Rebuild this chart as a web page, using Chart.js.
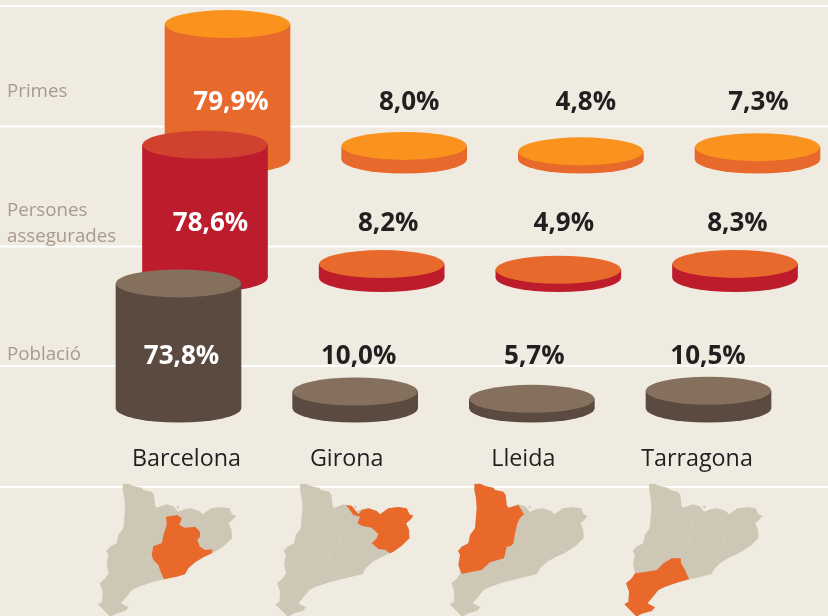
<!DOCTYPE html>
<html lang="ca">
<head>
<meta charset="utf-8">
<style>html,body{margin:0;padding:0;background:#f0ebe1;overflow:hidden}canvas{display:block}</style>
<script src="https://cdn.jsdelivr.net/npm/chart.js@4"></script>
</head>
<body>
<canvas id="c" width="828" height="616"></canvas>
<script>
// ---- data ----
const provinces = ['Barcelona', 'Girona', 'Lleida', 'Tarragona'];
const rowNames = ['Primes', 'Persones assegurades', 'Població'];
const primes = [79.9, 8.0, 4.8, 7.3];
const persones = [78.6, 8.2, 4.9, 8.3];
const poblacio = [73.8, 10.0, 5.7, 10.5];

// ---- layout / style (separate from the data) ----
const W = 828, H = 616;
const BG = '#f0ebe1';
const PX_PER_PCT = 1.695, COL_STEP = 176.67, BAR_W = 125, RY = 14;
const rows = [
  {id:'a', name:rowNames[0], values:primes,   x0:227.5, base:159.5, side:'#e7692b', tops:['#f9931e','#f9931e','#f9931e','#f9931e'], labelY:102.5, labelDx:[3.5,5,5,1]},
  {id:'b', name:rowNames[1], values:persones, x0:205,   base:278,   side:'#bd1c2c', tops:['#d1412f','#e7692b','#e7692b','#e7692b'], labelY:223.5, labelDx:[5.5,6.5,5.5,2.5]},
  {id:'c', name:rowNames[2], values:poblacio, x0:178.5, base:408.5, side:'#5a4a40', tops:['#84705c','#84705c','#84705c','#84705c'], labelY:356.5, labelDx:[3,3.5,2.5,-0.5]}
];
const gridY = [6, 126.5, 246.5, 366, 487];
const rowLabels = [[rowNames[0], 92], ['Persones', 210.5], ['assegurades', 237], [rowNames[2], 354.5]];
const catNudge = [8, -8.5, -8.5, -11.5];
const CAT_Y = 459;
const MAP_X = [90, 267.4, 441.7, 616.4], MAP_Y = 475;

// Decorative province outlines (3x map-local units)
const mapBase = [[98,27],[115,26],[130,33],[155,38],[160,45],[185,50],[192,60],[195,90],[200,98],[230,88],[250,94],[264,110],[283,103],[303,100],[328,108],[338,118],[363,100],[393,96],[418,100],[426,118],[438,122],[428,135],[416,145],[425,165],[426,190],[403,212],[368,235],[340,247],[315,262],[295,280],[285,298],[222,313],[186,322],[146,335],[126,345],[106,370],[93,385],[116,397],[106,408],[81,415],[61,425],[46,410],[24,388],[36,380],[38,350],[29,325],[46,310],[56,295],[50,270],[55,240],[49,228],[60,215],[80,205],[85,180],[100,160],[105,100],[103,70],[98,45]];
const mapRegions = [
  [[228,125],[262,120],[275,130],[268,150],[285,158],[315,155],[330,170],[330,185],[322,195],[330,215],[345,225],[367,223],[365,235],[340,247],[315,262],[295,280],[285,298],[260,305],[222,313],[212,290],[205,270],[190,255],[185,240],[190,213],[215,205],[222,175],[230,150]],
  [[236,90],[253,92],[273,118],[283,105],[303,100],[328,108],[338,118],[363,100],[393,96],[418,100],[426,118],[438,122],[428,135],[416,145],[425,165],[426,190],[403,212],[378,230],[368,235],[353,224],[333,222],[313,205],[328,190],[333,178],[313,158],[283,152],[270,145],[278,125],[258,120]],
  [[98,27],[115,26],[130,33],[155,38],[160,45],[185,50],[192,60],[195,90],[200,98],[230,90],[247,118],[235,128],[227,145],[220,175],[215,205],[207,213],[195,215],[187,250],[145,262],[120,285],[90,290],[60,297],[50,270],[55,240],[49,228],[60,215],[80,205],[85,180],[100,160],[105,100],[103,70],[98,45]],
  [[56,295],[91,290],[121,285],[141,265],[166,250],[193,250],[194,265],[206,285],[218,313],[186,322],[146,335],[126,345],[106,370],[93,385],[116,397],[106,408],[81,415],[71,418],[61,425],[46,410],[24,388],[36,380],[38,350],[29,325],[46,310]]
];
const mapBorders = [
  {a:2,b:3,pts:[[56,295],[91,290],[121,285],[145,262],[187,250]]},
  {a:0,b:3,pts:[[187,250],[194,265],[206,285],[218,313]]},
  {a:0,b:2,pts:[[187,250],[195,215],[215,205],[222,175],[230,150],[228,125]]},
  {a:0,b:1,pts:[[262,120],[268,150],[315,155],[330,170],[322,195],[333,222],[367,223]]}
];
const mapSpot = [264,96];

const datasets = rows.map((r, k) => ({
  type: 'bar',
  label: r.name,
  data: r.values.map((v, i) => ({x: i, y: v})),
  xAxisID: 'x' + r.id,
  yAxisID: 'y' + r.id,
  backgroundColor: r.side,
  barThickness: BAR_W,
  grouped: false,
  borderWidth: 0,
  order: rows.length - k
}));

const scales = {};
rows.forEach(r => {
  scales['x' + r.id] = {type:'linear', display:false, offset:false, min:-r.x0 / COL_STEP, max:(W - r.x0) / COL_STEP};
  scales['y' + r.id] = {type:'linear', display:false, min:(r.base - H) / PX_PER_PCT, max:r.base / PX_PER_PCT};
});

const backdrop = {
  id: 'backdrop',
  beforeDatasetsDraw(chart) {
    const c = chart.ctx;
    c.save();
    c.fillStyle = BG; c.fillRect(0, 0, W, H);
    c.fillStyle = '#ffffff';
    gridY.forEach(y => c.fillRect(0, y - 1, W, 2));
    c.fillStyle = '#a89a8c';
    c.font = '400 18.7px "Open Sans"';
    c.textBaseline = 'middle'; c.textAlign = 'left';
    rowLabels.forEach(([t, y]) => c.fillText(t, 7, y));
    c.restore();
  }
};

const cylinders = {
  id: 'cylinders',
  afterDatasetDraw(chart, args) {
    const c = chart.ctx, r = rows[args.index];
    args.meta.data.forEach((el, i) => {
      const p = el.getProps(['x', 'y', 'base', 'width'], true);
      const rx = p.width / 2;
      c.save();
      c.fillStyle = r.side;
      c.beginPath(); c.ellipse(p.x, p.base, rx, RY, 0, 0, Math.PI * 2); c.fill();
      c.fillStyle = r.tops[i];
      c.beginPath(); c.ellipse(p.x, p.y, rx, RY, 0, 0, Math.PI * 2); c.fill();
      c.restore();
    });
  }
};

function tracePoly(c, pts, ox) {
  c.beginPath();
  pts.forEach(([x, y], i) => {
    const px = ox + x / 3, py = MAP_Y + y / 3;
    if (i) c.lineTo(px, py); else c.moveTo(px, py);
  });
}

const annotate = {
  id: 'annotate',
  afterDatasetsDraw(chart) {
    const c = chart.ctx;
    c.save();
    c.textBaseline = 'middle'; c.textAlign = 'center';
    // value labels
    rows.forEach(r => {
      const sx = chart.scales['x' + r.id];
      r.values.forEach((v, i) => {
        c.font = '700 26px "Open Sans"';
        c.fillStyle = i === 0 ? '#ffffff' : '#231f20';
        c.fillText(v.toFixed(1).replace('.', ',') + '%', sx.getPixelForValue(i) + r.labelDx[i], r.labelY);
      });
    });
    // province names
    const sc = chart.scales.xc;
    c.font = '400 23.3px "Open Sans"';
    c.fillStyle = '#231f20';
    provinces.forEach((t, i) => c.fillText(t, sc.getPixelForValue(i) + catNudge[i], CAT_Y));
    // locator maps
    MAP_X.forEach((ox, i) => {
      c.fillStyle = '#cfc7b6';
      tracePoly(c, mapBase, ox); c.closePath(); c.fill();
      c.beginPath(); c.arc(ox + mapSpot[0] / 3, MAP_Y + mapSpot[1] / 3, 1.2, 0, 7); c.fill();
      c.strokeStyle = '#d6cfc0'; c.lineWidth = 0.6;
      mapBorders.forEach(b => {
        if (b.a !== i && b.b !== i) { tracePoly(c, b.pts, ox); c.stroke(); }
      });
      c.fillStyle = '#e8692a';
      tracePoly(c, mapRegions[i], ox); c.closePath(); c.fill();
    });
    c.restore();
  }
};

new Chart(document.getElementById('c'), {
  type: 'bar',
  data: {labels: provinces, datasets},
  options: {
    responsive: false,
    animation: false,
    layout: {padding: 0},
    plugins: {legend: {display: false}, tooltip: {enabled: false}, title: {display: false}},
    scales
  },
  plugins: [backdrop, cylinders, annotate]
});
</script>
</body>
</html>
